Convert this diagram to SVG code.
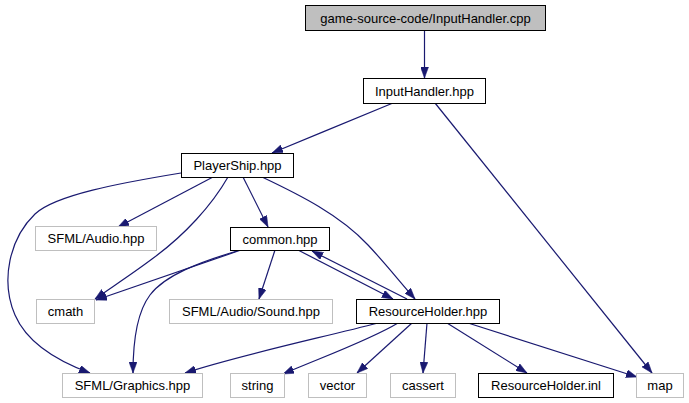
<svg xmlns="http://www.w3.org/2000/svg" width="689" height="403" viewBox="0 0 689 403">
<style>
  .n rect { fill: #ffffff; stroke: #000000; stroke-width: 1; }
  .n.sys rect { stroke: #bfbfbf; }
  .n.root rect { fill: #bfbfbf; }
  .n text { font-family: "Liberation Sans", Arial, sans-serif; font-size: 13px; fill: #000000; text-anchor: middle; }
  .e path { fill: none; stroke: #191970; stroke-width: 1.2; marker-end: url(#ah); }
</style>
<defs>
  <marker id="ah" markerUnits="userSpaceOnUse" markerWidth="11" markerHeight="8" refX="11" refY="4" orient="auto">
    <path d="M0,0 L11,4 L0,8 z" fill="#191970" stroke="#191970" stroke-width="0.5"/>
  </marker>
</defs>
<rect width="689" height="403" fill="#ffffff"/>
<g id="edges" class="e">
  <path d="M424.5,30 L424.5,78"/>
  <path d="M393,103 C360,117 310,137 272,153"/>
  <path d="M435,103 L652,373"/>
  <path d="M213,177 L118,227"/>
  <path d="M243,177 L268,227"/>
  <path d="M228,177 C212,205 185,235 152,259 C132,274 112,287 95,299"/>
  <path d="M181,173 C120,183 55,195 35,214 C10,238 0,280 15,315 C28,345 60,362 90,373"/>
  <path d="M262,177 C300,195 340,215 368,245 C385,263 400,282 415,299"/>
  <path d="M241,250 L96,300"/>
  <path d="M237,251 C200,262 165,275 150,295 C137,312 133,340 133,373"/>
  <path d="M275,250 L259,299"/>
  <path d="M298,250 L393,299"/>
  <path d="M407,299 L312,251"/>
  <path d="M378,323 C320,338 240,355 185,373"/>
  <path d="M398,323 C370,340 320,358 283,374"/>
  <path d="M412,323 L357,373"/>
  <path d="M427,323 L423,373"/>
  <path d="M447,323 L527,373"/>
  <path d="M468,323 L637,377"/>
</g>
<g id="root" class="n root"><rect x="305.5" y="5.5" width="240" height="25"/><text x="425.5" y="22.5">game-source-code/InputHandler.cpp</text></g>
<g id="inputhandler" class="n"><rect x="363.5" y="78.5" width="122" height="25"/><text x="424.5" y="95.5">InputHandler.hpp</text></g>
<g id="playership" class="n"><rect x="181.5" y="153.5" width="112" height="24"/><text x="237.5" y="170">PlayerShip.hpp</text></g>
<g id="sfml_audio" class="n sys"><rect x="35.5" y="226.5" width="121" height="24"/><text x="96" y="243">SFML/Audio.hpp</text></g>
<g id="common" class="n"><rect x="230.5" y="227.5" width="99" height="23"/><text x="280" y="243.5">common.hpp</text></g>
<g id="cmath" class="n sys"><rect x="36.5" y="299.5" width="58" height="24"/><text x="65.5" y="316">cmath</text></g>
<g id="sfml_sound" class="n sys"><rect x="169.5" y="299.5" width="163" height="24"/><text x="251" y="316">SFML/Audio/Sound.hpp</text></g>
<g id="resourceholder" class="n"><rect x="356.5" y="299.5" width="143" height="24"/><text x="428" y="316">ResourceHolder.hpp</text></g>
<g id="sfml_graphics" class="n sys"><rect x="62.5" y="373.5" width="140" height="24"/><text x="132.5" y="390">SFML/Graphics.hpp</text></g>
<g id="string" class="n sys"><rect x="230.5" y="373.5" width="54" height="24"/><text x="257.5" y="390">string</text></g>
<g id="vector" class="n sys"><rect x="308.5" y="373.5" width="58" height="24"/><text x="337.5" y="390">vector</text></g>
<g id="cassert" class="n sys"><rect x="390.5" y="373.5" width="65" height="24"/><text x="423" y="390">cassert</text></g>
<g id="resourceholder_inl" class="n"><rect x="478.5" y="373.5" width="135" height="24"/><text x="546" y="390">ResourceHolder.inl</text></g>
<g id="map" class="n sys"><rect x="636.5" y="373.5" width="47" height="24"/><text x="660" y="390">map</text></g>
</svg>
